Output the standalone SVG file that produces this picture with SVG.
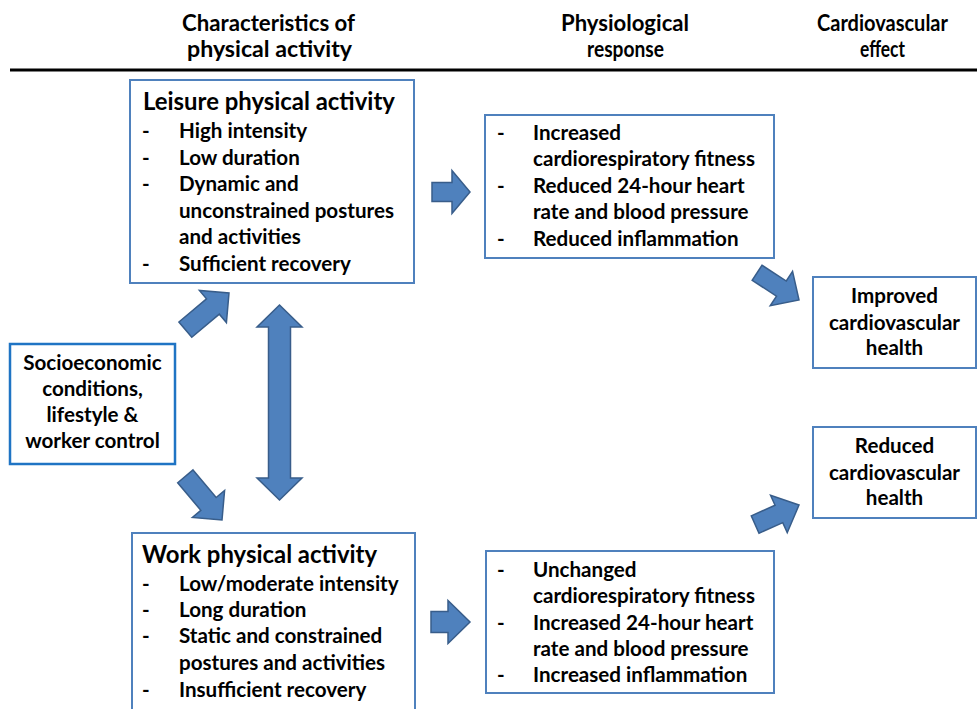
<svg xmlns="http://www.w3.org/2000/svg" width="977" height="709" viewBox="0 0 977 709">
<style>
.box{fill:#ffffff;stroke:#4F81BD;stroke-width:2}
.sbox{fill:#ffffff;stroke:#1F74C4;stroke-width:2.5}
.t{font-family:Lato,"Open Sans","Liberation Sans",sans-serif;font-weight:bold;fill:#000;font-size:20.6px}
.ti{font-family:Lato,"Open Sans","Liberation Sans",sans-serif;font-weight:bold;fill:#000;font-size:23.9px}
.h{font-family:Lato,"Liberation Sans",sans-serif;font-weight:bold;fill:#000;font-size:23px}
.c{text-anchor:middle}
.arr{fill:#4F81BD;stroke:#385D8A;stroke-width:1.5;stroke-linejoin:miter}
</style>
<rect x="0" y="0" width="977" height="709" fill="#ffffff"/>
<g id="header">
<text class="h" x="182" y="31" textLength="173" lengthAdjust="spacingAndGlyphs">Characteristics of</text>
<text class="h" x="187" y="57" textLength="165" lengthAdjust="spacingAndGlyphs">physical activity</text>
<text class="h" x="561" y="31" textLength="128" lengthAdjust="spacingAndGlyphs">Physiological</text>
<text class="h" x="587" y="57" textLength="77" lengthAdjust="spacingAndGlyphs">response</text>
<text class="h" x="817" y="31" textLength="131" lengthAdjust="spacingAndGlyphs">Cardiovascular</text>
<text class="h" x="860" y="57" textLength="45" lengthAdjust="spacingAndGlyphs">effect</text>
<line x1="10" y1="70" x2="977" y2="70" stroke="#000" stroke-width="3"/>
</g>
<g id="connectors">
<path class="arr" d="M0,-9.5 H20 V-21.5 L38,0 L20,21.5 V9.5 H0 Z" transform="translate(432,192)"/>
<path class="arr" d="M0,-10.5 H17 V-21.5 L39,0 L17,21.5 V10.5 H0 Z" transform="translate(431,622)"/>
<path class="arr" d="M-57,-10 H-21 V-21 L0,0 L-21,21 V10 H-57 Z" transform="translate(229,293) rotate(-40)"/>
<path class="arr" d="M-57,-10 H-21 V-21 L0,0 L-21,21 V10 H-57 Z" transform="translate(222,520) rotate(50)"/>
<path class="arr" d="M279.5,305 L302,327 H290.5 V478 H302 L279.5,500 L257,478 H268.5 V327 H257 Z"/>
<path class="arr" d="M-50,-9 H-21 V-20.5 L0,0 L-21,20.5 V9 H-50 Z" transform="translate(799,300) rotate(33)"/>
<path class="arr" d="M-48,-9.5 H-22 V-20.5 L0,0 L-22,20.5 V9.5 H-48 Z" transform="translate(799,505) rotate(-24)"/>
</g>
<g id="leisure">
<rect class="box" x="130" y="80" width="284" height="203"/>
<text class="ti" x="143" y="110">Leisure physical activity</text>
<text class="t" x="142" y="138">-</text><text class="t" x="179" y="138">High intensity</text>
<text class="t" x="142" y="164.5">-</text><text class="t" x="179" y="164.5">Low duration</text>
<text class="t" x="142" y="191">-</text><text class="t" x="179" y="191">Dynamic and</text>
<text class="t" x="179" y="217.5">unconstrained postures</text>
<text class="t" x="179" y="244">and activities</text>
<text class="t" x="142" y="270.5">-</text><text class="t" x="179" y="270.5">Sufficient recovery</text>
</g>
<g id="work">
<rect class="box" x="132" y="533" width="283" height="200"/>
<text class="ti" x="142" y="563">Work physical activity</text>
<text class="t" x="142" y="591">-</text><text class="t" x="179" y="591">Low/moderate intensity</text>
<text class="t" x="142" y="617">-</text><text class="t" x="179" y="617">Long duration</text>
<text class="t" x="142" y="643">-</text><text class="t" x="179" y="643">Static and constrained</text>
<text class="t" x="179" y="670">postures and activities</text>
<text class="t" x="142" y="697">-</text><text class="t" x="179" y="697">Insufficient recovery</text>
</g>
<g id="socio">
<rect class="sbox" x="10" y="344" width="165" height="120"/>
<text class="t c" x="92.5" y="370">Socioeconomic</text>
<text class="t c" x="92.5" y="396">conditions,</text>
<text class="t c" x="92.5" y="422">lifestyle &amp;</text>
<text class="t c" x="92.5" y="448">worker control</text>
</g>
<g id="phys-leisure">
<rect class="box" x="485" y="115" width="289" height="143"/>
<text class="t" x="497" y="140">-</text><text class="t" x="533" y="140">Increased</text>
<text class="t" x="533" y="166">cardiorespiratory fitness</text>
<text class="t" x="497" y="193">-</text><text class="t" x="533" y="193">Reduced 24-hour heart</text>
<text class="t" x="533" y="219">rate and blood pressure</text>
<text class="t" x="497" y="246">-</text><text class="t" x="533" y="246">Reduced inflammation</text>
</g>
<g id="phys-work">
<rect class="box" x="486" y="551" width="288" height="142"/>
<text class="t" x="497" y="577">-</text><text class="t" x="533" y="577">Unchanged</text>
<text class="t" x="533" y="603">cardiorespiratory fitness</text>
<text class="t" x="497" y="630">-</text><text class="t" x="533" y="630">Increased 24-hour heart</text>
<text class="t" x="533" y="656">rate and blood pressure</text>
<text class="t" x="497" y="682">-</text><text class="t" x="533" y="682">Increased inflammation</text>
</g>
<g id="improved">
<rect class="box" x="813" y="277" width="163" height="91"/>
<text class="t c" x="894.5" y="303">Improved</text>
<text class="t c" x="894.5" y="330">cardiovascular</text>
<text class="t c" x="894.5" y="355">health</text>
</g>
<g id="reduced">
<rect class="box" x="813" y="427" width="163" height="91"/>
<text class="t c" x="894.5" y="453">Reduced</text>
<text class="t c" x="894.5" y="480">cardiovascular</text>
<text class="t c" x="894.5" y="505">health</text>
</g>
</svg>
